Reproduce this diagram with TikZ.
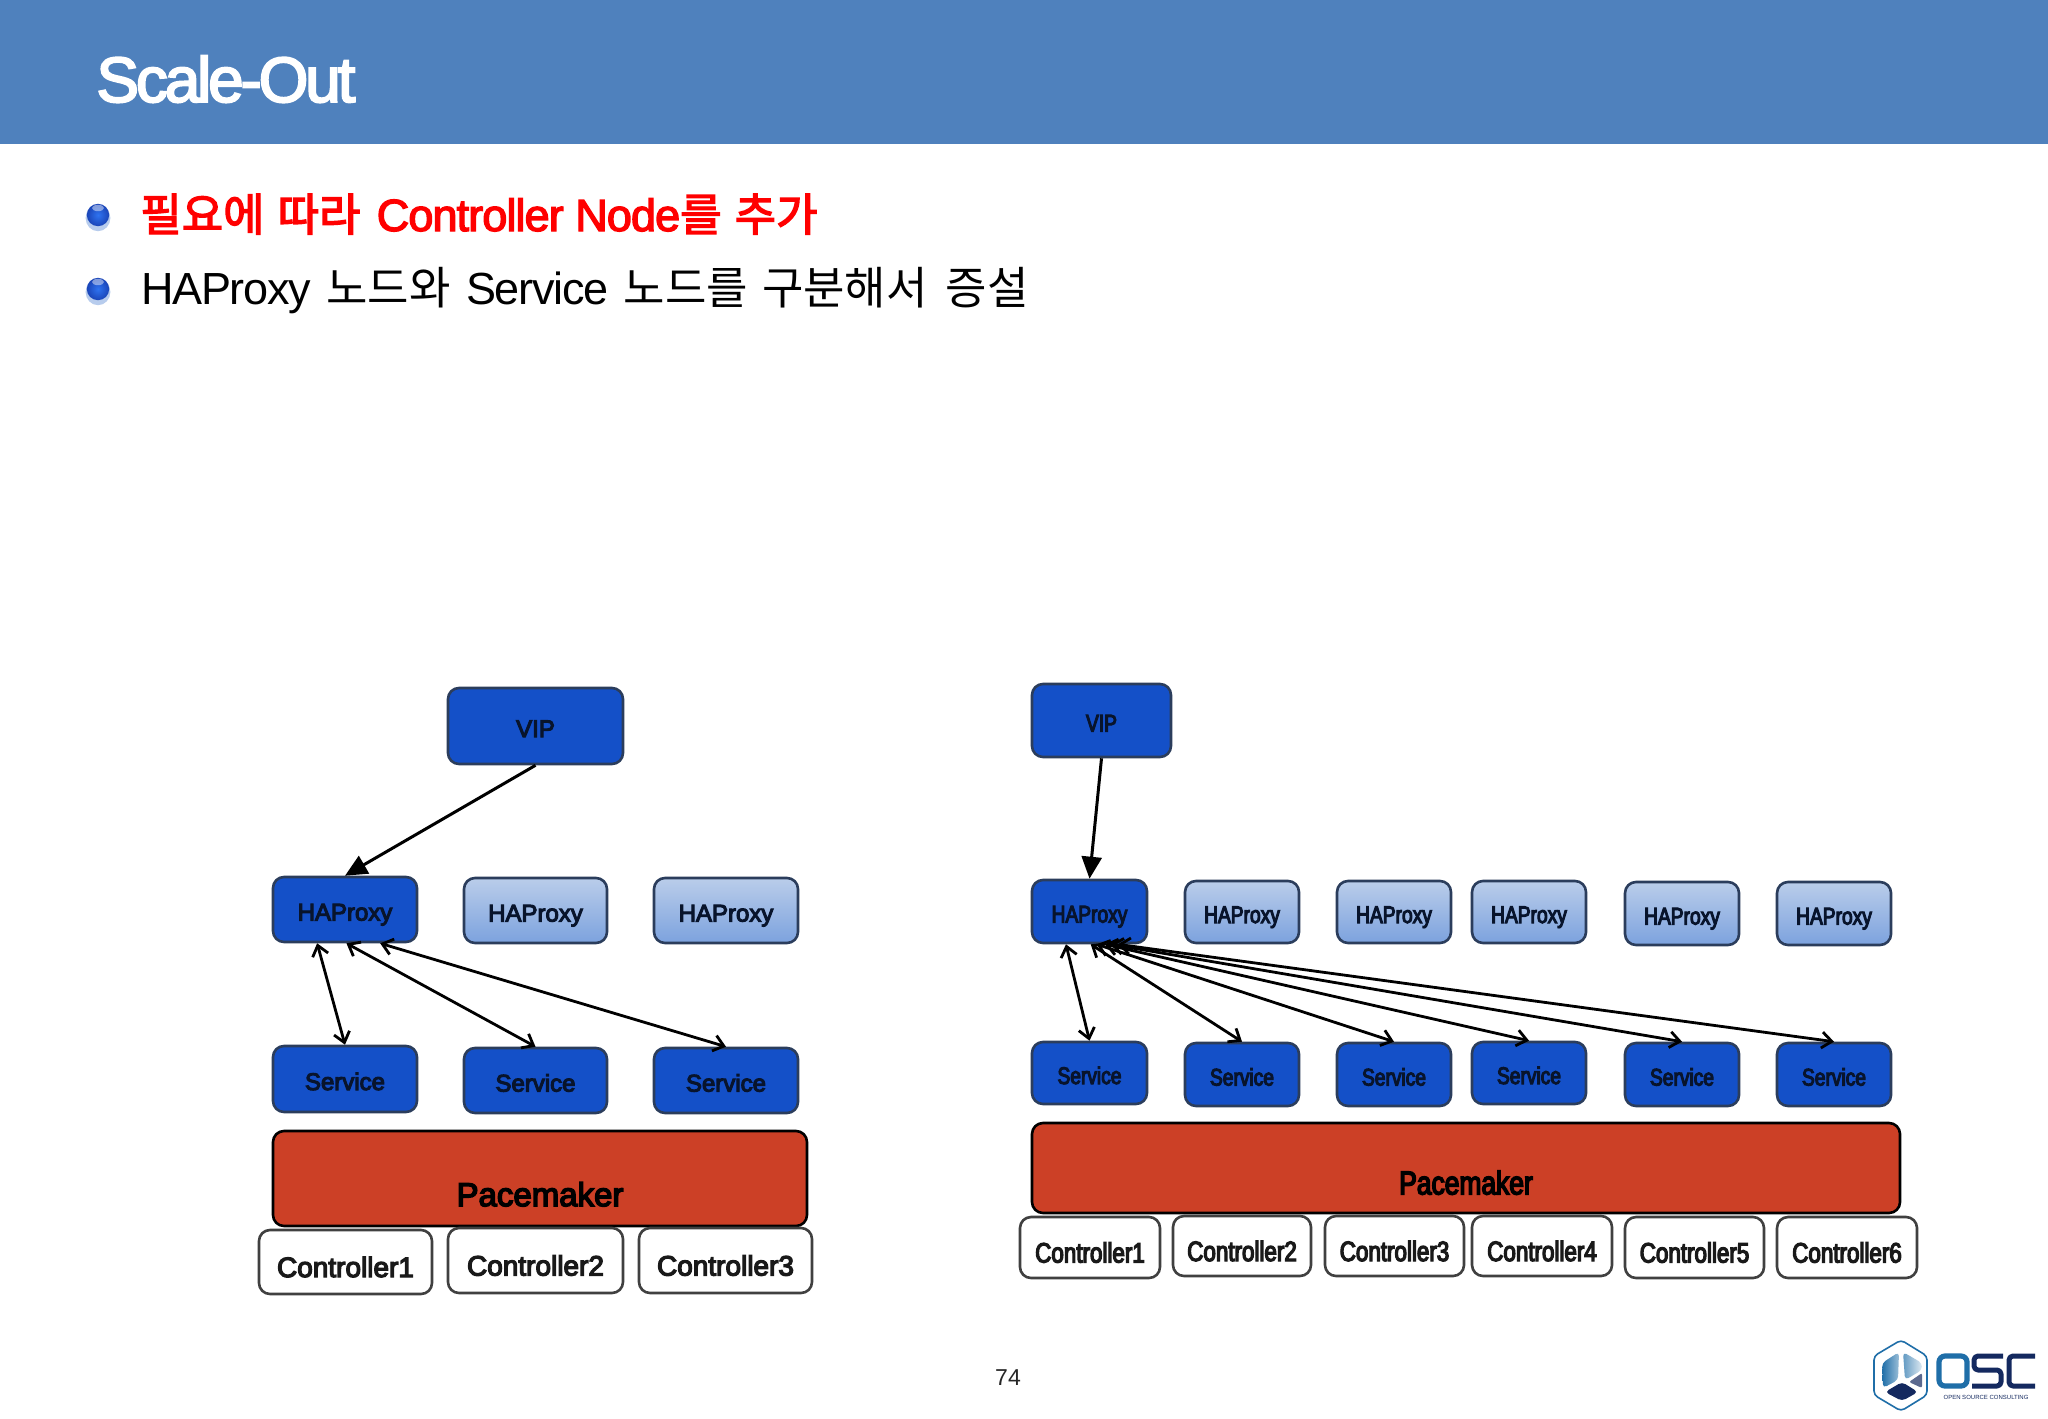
\documentclass[tikz,border=0pt]{standalone}
\usepackage{fontspec}
\setmainfont{Liberation Sans}
\newfontfamily\bodyf[LetterSpace=-3,WordSpace=1.4]{Liberation Sans}
\newfontfamily\spacef[WordSpace=1.3]{Liberation Sans}
\newfontfamily\krf[WordSpace=1.4]{Noto Sans CJK KR}
\newfontfamily\krb[FakeBold=3,WordSpace=1.3]{Noto Sans CJK KR}
\newfontfamily\lab[FakeBold=4.5]{Liberation Sans}
\newfontfamily\labn[FakeBold=4.5,FakeStretch=0.8]{Liberation Sans}
\newfontfamily\titlef[FakeBold=3,LetterSpace=-5]{Liberation Sans}
\newfontfamily\headf[FakeBold=3,LetterSpace=-2]{Liberation Sans}
\usetikzlibrary{arrows.meta,calc}
\definecolor{hdr}{HTML}{4F81BD}
\definecolor{nodeblue}{HTML}{1450C8}
\definecolor{edgeblue}{HTML}{2B3D5C}
\definecolor{paleT}{HTML}{BACDEA}
\definecolor{paleB}{HTML}{7CA2DE}
\definecolor{pacered}{HTML}{CC4026}
\definecolor{inkdark}{HTML}{08142C}
\definecolor{oscblue}{HTML}{1F6EA8}
\definecolor{oscnavy}{HTML}{14295F}
\definecolor{ballin}{HTML}{2F73F0}
\definecolor{ballout}{HTML}{1A45B8}
\newcommand\boxn[7]{\node[#2,minimum width={(#5-#3)*0.5pt},minimum height={(#6-#4)*0.5pt}] (#1) at ({(#3+#5)/2},{(#4+#6)/2}) {#7};}
\newcommand\bullt[2]{\fill[paleB!55] (#1,#2+3) circle[x radius=6.2pt,y radius=6.6pt];\shade[inner color=ballin,outer color=ballout] (#1,#2) circle[radius=5.6pt];\fill[white,opacity=.45] (#1,#2-7) circle[x radius=3pt,y radius=1.6pt];}
\tikzset{
 basebox/.style={rectangle,rounded corners=5.5pt,draw=edgeblue,line width=1.3pt,inner sep=0pt,text=inkdark,text height=11pt,text depth=0pt},
 vipbox/.style={basebox,fill=nodeblue},
 activebox/.style={basebox,fill=nodeblue},
 spare/.style={basebox,top color=paleT,bottom color=paleB},
 pacebox/.style={basebox,fill=pacered,draw=black,text=black},
 ctlbox/.style={basebox,fill=white,draw=black!75,text=black!90,text height=15pt},
 vipline/.style={line width=1.5pt,-{Triangle[length=11pt,width=10pt]}},
 twoway/.style={line width=1.4pt,{Straight Barb[length=5pt,width=8pt]}-{Straight Barb[length=5pt,width=8pt]}},
 oscstroke/.style={line width=2.5pt,line join=round,rounded corners=2pt}
}
\begin{document}
\begin{tikzpicture}[x=0.5pt,y=-0.5pt]
\useasboundingbox (0,0) rectangle (2048,1418);
\fill[white] (0,0) rectangle (2048,1418);
\fill[hdr] (0,0) rectangle (2048,144);
\node[anchor=base west,inner sep=0pt,text=white,font=\titlef\fontsize{32}{32}\selectfont] (title) at (96,102) {Scale-Out};
\bullt{98}{215}
\bullt{98}{289}
\node[anchor=base west,inner sep=0pt,text=red,font=\spacef\fontsize{22.5}{22.5}\selectfont] (line1) at (140,231) {{\krb 필요에 따라} {\headf Controller Node}{\krb 를 추가}};
\node[anchor=base west,inner sep=0pt,text=black,font=\bodyf\fontsize{22.5}{22.5}\selectfont] (line2) at (141,304) {HAProxy {\krf 노드와} Service {\krf 노드를 구분해서\hspace{2pt} 증설}};
% left diagram
\begin{scope}[every node/.append style={font=\lab\fontsize{12}{12}\selectfont}]
\boxn{lvip}{vipbox}{448}{688}{623}{764}{VIP}
\boxn{lha1}{activebox}{273}{877}{417}{942}{HAProxy}
\boxn{lha2}{spare}{464}{878}{607}{943}{HAProxy}
\boxn{lha3}{spare}{654}{878}{798}{943}{HAProxy}
\boxn{ls1}{activebox}{273}{1046}{417}{1112}{Service}
\boxn{ls2}{activebox}{464}{1048}{607}{1113}{Service}
\boxn{ls3}{activebox}{654}{1048}{798}{1113}{Service}
\boxn{lpm}{pacebox}{273}{1131}{807}{1226}{\smash{\raisebox{-8.3pt}{\fontsize{16.5}{16.5}\selectfont Pacemaker}}}
\boxn{lc1}{ctlbox}{259}{1230}{432}{1294}{\fontsize{14}{14}\selectfont Controller1}
\boxn{lc2}{ctlbox}{448}{1228}{623}{1293}{\fontsize{14}{14}\selectfont Controller2}
\boxn{lc3}{ctlbox}{639}{1228}{812}{1293}{\fontsize{14}{14}\selectfont Controller3}
\end{scope}
\draw[vipline] (lvip.south) -- (lha1.north);
\draw[twoway] ($(lha1.south west)!.31!(lha1.south east)$) -- (ls1.north);
\draw[twoway] ($(lha1.south west)!.51!(lha1.south east)$) -- (ls2.north);
\draw[twoway] ($(lha1.south west)!.74!(lha1.south east)$) -- (ls3.north);
% right diagram
\begin{scope}[every node/.append style={font=\labn\fontsize{12}{12}\selectfont}]
\boxn{rvip}{vipbox}{1032}{684}{1171}{757}{VIP}
\boxn{rha1}{activebox}{1032}{880}{1147}{943}{HAProxy}
\boxn{rha2}{spare}{1185}{881}{1299}{943}{HAProxy}
\boxn{rha3}{spare}{1337}{881}{1451}{943}{HAProxy}
\boxn{rha4}{spare}{1472}{881}{1586}{943}{HAProxy}
\boxn{rha5}{spare}{1625}{882}{1739}{945}{HAProxy}
\boxn{rha6}{spare}{1777}{882}{1891}{945}{HAProxy}
\boxn{rs1}{activebox}{1032}{1042}{1147}{1104}{Service}
\boxn{rs2}{activebox}{1185}{1043}{1299}{1106}{Service}
\boxn{rs3}{activebox}{1337}{1043}{1451}{1106}{Service}
\boxn{rs4}{activebox}{1472}{1042}{1586}{1104}{Service}
\boxn{rs5}{activebox}{1625}{1043}{1739}{1106}{Service}
\boxn{rs6}{activebox}{1777}{1043}{1891}{1106}{Service}
\boxn{rpm}{pacebox}{1032}{1123}{1900}{1213}{\smash{\raisebox{-7.7pt}{\fontsize{16.5}{16.5}\selectfont Pacemaker}}}
\boxn{rc1}{ctlbox}{1020}{1217}{1160}{1278}{\fontsize{14}{14}\selectfont Controller1}
\boxn{rc2}{ctlbox}{1173}{1216}{1311}{1276}{\fontsize{14}{14}\selectfont Controller2}
\boxn{rc3}{ctlbox}{1325}{1216}{1464}{1276}{\fontsize{14}{14}\selectfont Controller3}
\boxn{rc4}{ctlbox}{1472}{1216}{1612}{1276}{\fontsize{14}{14}\selectfont Controller4}
\boxn{rc5}{ctlbox}{1625}{1217}{1764}{1278}{\fontsize{14}{14}\selectfont Controller5}
\boxn{rc6}{ctlbox}{1777}{1217}{1917}{1278}{\fontsize{14}{14}\selectfont Controller6}
\end{scope}
\draw[vipline] (rvip.south) -- (rha1.north);
\draw[twoway] ($(rha1.south west)!.30!(rha1.south east)$) -- (rs1.north);
\draw[twoway] ($(rha1.south west)!.51!(rha1.south east)$) -- (rs2.north);
\draw[twoway] ($(rha1.south west)!.56!(rha1.south east)$) -- (rs3.north);
\draw[twoway] ($(rha1.south west)!.63!(rha1.south east)$) -- (rs4.north);
\draw[twoway] ($(rha1.south west)!.68!(rha1.south east)$) -- (rs5.north);
\draw[twoway] ($(rha1.south west)!.74!(rha1.south east)$) -- (rs6.north);
% page number
\node[inner sep=0pt,font=\fontsize{11.5}{11.5}\selectfont,text=black!85] (pageno) at (1008,1378) {74};
% logo
\draw[oscblue,line width=0.8pt,rounded corners=2pt] (1901,1340) -- (1927,1356) -- (1927,1395) -- (1901,1411) -- (1874,1395) -- (1874,1356) -- cycle;
\shade[left color=oscblue,right color=oscblue!45,rounded corners=2pt] (1899,1352) -- (1898,1380) -- (1883,1388) -- (1882,1363) -- cycle;
\shade[left color=oscblue!70,right color=oscblue!15,rounded corners=2pt] (1903,1352) -- (1922,1363) -- (1922,1370) -- (1905,1380) -- cycle;
\fill[oscnavy!70,rounded corners=1pt] (1922,1373) -- (1922,1388) -- (1909,1382) -- cycle;
\fill[oscnavy,rounded corners=2pt] (1885,1392) -- (1902,1382) -- (1918,1392) -- (1902,1401) -- cycle;
\draw[oscblue,line width=2.6pt,rounded corners=3pt] (1939,1356) rectangle (1967,1386);
\draw[oscstroke,oscnavy] (2003,1356) -- (1974,1356) -- (1974,1370) -- (2001,1370) -- (2001,1386) -- (1972,1386);
\draw[oscstroke,oscnavy] (2035,1356) -- (2009,1356) -- (2009,1386) -- (2035,1386);
\node[inner sep=0pt,font=\fontsize{3}{3}\selectfont,text=oscnavy] (osctext) at (1986,1397) {OPEN SOURCE CONSULTING};
\end{tikzpicture}
\end{document}
